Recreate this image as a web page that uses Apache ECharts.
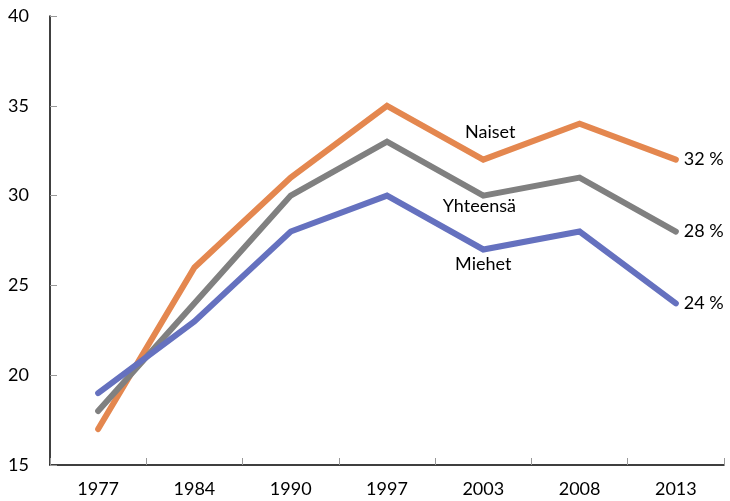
<!DOCTYPE html>
<html>
<head>
<meta charset="utf-8">
<script src="https://cdn.jsdelivr.net/npm/echarts@6/dist/echarts.min.js"></script>
<style>
html, body { margin: 0; padding: 0; background: #fff; }
#chart { width: 730px; height: 501px; }
</style>
</head>
<body>
<div id="chart"></div>
<script>
var years = ['1977', '1984', '1990', '1997', '2003', '2008', '2013'];
var naiset = [17, 26, 31, 35, 32, 34, 32];
var yhteensa = [18, 24, 30, 33, 30, 31, 28];
var miehet = [19, 23, 28, 30, 27, 28, 24];

var font = 'Lato, "Noto Sans", sans-serif';

// nimilabel vuoden 2003 pisteeseen
function withName(values, pos, dist, offset) {
	return values.map(function (v, i) {
		if (i !== 4) return v;
		return {
			value: v,
			label: {
				show: true, position: pos, distance: dist, offset: offset,
				formatter: '{a}', color: '#000', fontSize: 18, fontFamily: font
			}
		};
	});
}

function line(name, values, color, pos, dist, offset) {
	return {
		name: name,
		type: 'line',
		data: withName(values, pos, dist, offset),
		showSymbol: true,
		symbol: 'circle',
		symbolSize: 0,
		lineStyle: { color: color, width: 6, cap: 'round', join: 'miter' },
		itemStyle: { color: color },
		label: { show: false },
		endLabel: {
			show: true, formatter: '{c} %', distance: 8,
			color: '#000', fontSize: 18, fontFamily: font
		},
		emphasis: { disabled: true },
		animation: false
	};
}

var chart = echarts.init(document.getElementById('chart'));
chart.setOption({
	grid: { left: 50, right: 6, top: 16, bottom: 36 },
	xAxis: {
		type: 'category',
		data: years,
		boundaryGap: true,
		axisLine: { lineStyle: { color: '#000', width: 1.5 } },
		axisTick: { show: true, inside: true, length: 7, lineStyle: { color: '#999' } },
		axisLabel: { color: '#000', fontSize: 18, fontFamily: font, margin: 15 }
	},
	yAxis: {
		type: 'value',
		min: 15, max: 40, interval: 5,
		axisLine: { show: true, lineStyle: { color: '#000', width: 1.5 } },
		axisTick: { show: true, inside: true, length: 7, lineStyle: { color: '#999' } },
		splitLine: { show: false },
		axisLabel: { color: '#000', fontSize: 18, fontFamily: font, margin: 21 }
	},
	series: [
		line('Naiset', naiset, '#E4874F', 'top', 20, [7, 2]),
		line('Yhteensä', yhteensa, '#808080', 'bottom', 2, [-4, 0]),
		line('Miehet', miehet, '#6571BF', 'bottom', 6, [0, 0])
	]
});
</script>
</body>
</html>
